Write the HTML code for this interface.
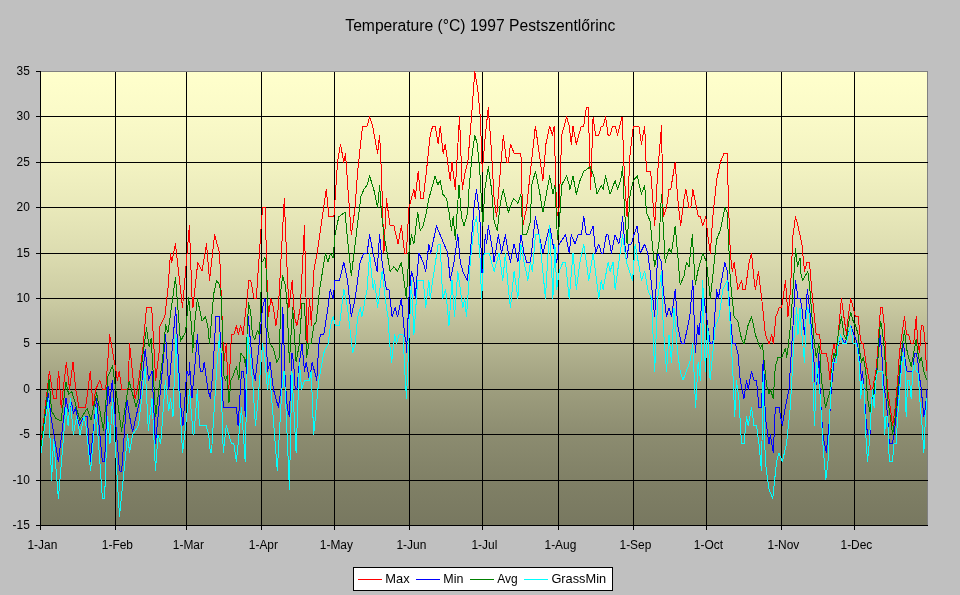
<!DOCTYPE html><html><head><meta charset="utf-8"><title>Temperature 1997</title>
<style>html,body{margin:0;padding:0;background:#c0c0c0}svg{display:block}text{font-family:"Liberation Sans",sans-serif;fill:#000}</style></head><body>
<svg width="960" height="595" viewBox="0 0 960 595">
<defs><linearGradient id="g" x1="0" y1="0" x2="0" y2="1"><stop offset="0.000" stop-color="#ffffcc"/><stop offset="0.099" stop-color="#fafac8"/><stop offset="0.200" stop-color="#f3f3c2"/><stop offset="0.300" stop-color="#e9e9ba"/><stop offset="0.401" stop-color="#dcdcb0"/><stop offset="0.500" stop-color="#cccca3"/><stop offset="0.599" stop-color="#b5b591"/><stop offset="0.700" stop-color="#9e9e7e"/><stop offset="0.800" stop-color="#8c8c70"/><stop offset="0.901" stop-color="#808066"/><stop offset="1.000" stop-color="#787860"/></linearGradient></defs>
<rect width="960" height="595" fill="#c0c0c0"/>
<rect x="40.5" y="71.5" width="887.0" height="454.0" fill="url(#g)" stroke="#808080" stroke-width="1"/>
<path d="M40.5 525.5H927.5M35.5 525.5H40.5M40.5 480.5H927.5M35.5 480.5H40.5M40.5 434.5H927.5M35.5 434.5H40.5M40.5 389.5H927.5M35.5 389.5H40.5M40.5 343.5H927.5M35.5 343.5H40.5M40.5 298.5H927.5M35.5 298.5H40.5M40.5 253.5H927.5M35.5 253.5H40.5M40.5 207.5H927.5M35.5 207.5H40.5M40.5 162.5H927.5M35.5 162.5H40.5M40.5 116.5H927.5M35.5 116.5H40.5M35.5 71.5H40.5M40.5 71.5V530.0M115.5 71.5V530.0M186.5 71.5V530.0M261.5 71.5V530.0M334.5 71.5V530.0M409.5 71.5V530.0M482.5 71.5V530.0M558.5 71.5V530.0M633.5 71.5V530.0M706.5 71.5V530.0M781.5 71.5V530.0M854.5 71.5V530.0" stroke="#000" stroke-width="1" fill="none" shape-rendering="crispEdges"/>
<text transform="translate(29.8 529.3) scale(0.895 1)" font-size="13.33" text-anchor="end">-15</text>
<text transform="translate(29.8 484.3) scale(0.895 1)" font-size="13.33" text-anchor="end">-10</text>
<text transform="translate(29.8 438.3) scale(0.895 1)" font-size="13.33" text-anchor="end">-5</text>
<text transform="translate(29.8 393.3) scale(0.895 1)" font-size="13.33" text-anchor="end">0</text>
<text transform="translate(29.8 347.3) scale(0.895 1)" font-size="13.33" text-anchor="end">5</text>
<text transform="translate(29.8 302.3) scale(0.895 1)" font-size="13.33" text-anchor="end">10</text>
<text transform="translate(29.8 257.3) scale(0.895 1)" font-size="13.33" text-anchor="end">15</text>
<text transform="translate(29.8 211.3) scale(0.895 1)" font-size="13.33" text-anchor="end">20</text>
<text transform="translate(29.8 166.3) scale(0.895 1)" font-size="13.33" text-anchor="end">25</text>
<text transform="translate(29.8 120.3) scale(0.895 1)" font-size="13.33" text-anchor="end">30</text>
<text transform="translate(29.8 75.3) scale(0.895 1)" font-size="13.33" text-anchor="end">35</text>
<text transform="translate(42.4 548.7) scale(0.895 1)" font-size="13.33" text-anchor="middle">1-Jan</text>
<text transform="translate(117.4 548.7) scale(0.895 1)" font-size="13.33" text-anchor="middle">1-Feb</text>
<text transform="translate(188.4 548.7) scale(0.895 1)" font-size="13.33" text-anchor="middle">1-Mar</text>
<text transform="translate(263.4 548.7) scale(0.895 1)" font-size="13.33" text-anchor="middle">1-Apr</text>
<text transform="translate(336.4 548.7) scale(0.895 1)" font-size="13.33" text-anchor="middle">1-May</text>
<text transform="translate(411.4 548.7) scale(0.895 1)" font-size="13.33" text-anchor="middle">1-Jun</text>
<text transform="translate(484.4 548.7) scale(0.895 1)" font-size="13.33" text-anchor="middle">1-Jul</text>
<text transform="translate(560.4 548.7) scale(0.895 1)" font-size="13.33" text-anchor="middle">1-Aug</text>
<text transform="translate(635.4 548.7) scale(0.895 1)" font-size="13.33" text-anchor="middle">1-Sep</text>
<text transform="translate(708.4 548.7) scale(0.895 1)" font-size="13.33" text-anchor="middle">1-Oct</text>
<text transform="translate(783.4 548.7) scale(0.895 1)" font-size="13.33" text-anchor="middle">1-Nov</text>
<text transform="translate(856.4 548.7) scale(0.895 1)" font-size="13.33" text-anchor="middle">1-Dec</text>
<text x="480.3" y="30.7" font-size="16" text-anchor="middle" textLength="270" lengthAdjust="spacingAndGlyphs">Temperature (°C) 1997 Pestszentlőrinc</text>
<path d="M41.0 443.8L49.4 371.1L53.6 398.4L56.2 398.4L58.7 371.1L61.2 407.5L66.3 362.1L69.6 389.3L73.0 362.1L75.8 389.3L78.9 407.5L85.6 407.5L90.3 371.1L93.1 407.5L95.7 389.3L99.9 380.2L102.4 389.3L105.7 389.3L109.7 334.8L116.0 371.1L117.4 380.2L119.3 371.1L121.7 389.3L128.0 389.3L129.6 343.9L135.1 398.4L137.5 389.3L142.9 348.4L146.5 307.6L151.7 307.6L153.3 336.6L155.7 380.2L159.0 353.0L160.0 325.7L164.8 316.7L167.9 289.4L170.5 253.1L171.8 262.2L175.5 244.0L182.5 307.6L189.4 225.9L192.4 307.6L192.9 307.6L197.8 262.2L202.0 271.3L206.5 244.0L209.5 280.3L214.6 234.9L219.6 253.1L223.8 362.1L226.3 343.9L228.4 398.4L231.4 334.8L233.9 334.8L236.4 325.7L238.4 334.8L240.6 325.7L243.1 334.8L249.0 280.3L250.7 280.3L254.1 298.5L256.3 298.5L262.5 207.7L265.3 207.7L266.7 271.3L268.4 316.7L270.9 298.5L273.4 307.6L275.9 325.7L278.4 307.6L284.3 198.6L286.8 262.2L288.9 307.6L292.2 280.3L294.4 316.7L296.9 325.7L300.3 307.6L304.5 225.9L307.0 343.9L309.5 298.5L311.4 325.7L313.7 271.3L317.1 253.1L326.3 189.5L328.9 216.8L333.9 216.8L337.5 162.3L340.5 144.1L343.8 162.3L345.5 153.2L348.0 189.5L351.3 234.9L355.1 207.7L357.6 171.4L362.6 126.0L367.1 126.0L369.6 116.9L372.6 126.0L377.6 153.2L379.6 135.1L381.4 171.4L383.9 253.1L386.4 198.6L390.1 225.9L393.9 225.9L398.1 244.0L401.4 225.9L404.6 253.1L406.4 253.1L408.9 207.7L413.9 189.5L415.2 198.6L418.2 171.4L420.7 198.6L423.2 198.6L426.4 171.4L430.2 135.1L432.7 126.0L435.2 126.0L438.2 144.1L440.2 126.0L443.2 153.2L445.2 144.1L450.2 180.5L452.0 162.3L455.3 189.5L459.5 116.9L462.3 189.5L465.3 171.4L467.8 162.3L471.5 116.9L474.8 71.5L477.8 89.7L480.3 116.9L482.3 171.4L485.3 135.1L488.3 107.8L491.6 153.2L494.1 198.6L496.6 216.8L500.3 171.4L503.3 135.1L506.6 162.3L508.4 162.3L510.4 144.1L514.1 153.2L520.9 153.2L522.9 225.9L526.6 207.7L530.4 171.4L535.4 126.0L539.2 153.2L542.9 180.5L545.9 144.1L549.7 126.0L552.4 135.1L554.2 126.0L556.7 216.8L559.2 207.7L561.7 135.1L566.7 116.9L569.2 126.0L571.3 144.1L573.0 126.0L576.3 144.1L581.3 126.0L583.8 126.0L586.3 107.8L588.3 107.8L590.6 189.5L593.1 116.9L595.6 135.1L598.8 135.1L601.3 126.0L603.1 126.0L605.6 116.9L608.1 135.1L610.1 135.1L612.6 126.0L615.1 126.0L617.6 135.1L622.1 116.9L624.6 180.5L627.1 216.8L630.1 153.2L633.4 126.0L638.9 126.0L641.4 144.1L644.7 126.0L646.4 171.4L650.7 171.4L654.7 225.9L657.7 171.4L661.5 126.0L663.2 216.8L666.5 207.7L669.0 189.5L670.7 189.5L675.2 162.3L677.7 198.6L680.7 225.9L684.0 198.6L686.0 189.5L689.0 207.7L690.8 207.7L692.8 189.5L696.5 207.7L698.3 216.8L700.3 216.8L702.8 225.9L705.8 216.8L707.8 234.9L710.3 253.1L712.8 216.8L716.6 180.5L720.3 162.3L724.1 153.2L727.3 153.2L728.3 198.6L730.3 253.1L732.3 271.3L734.1 262.2L737.9 289.4L741.6 280.3L742.9 289.4L745.4 289.4L749.1 262.2L751.6 253.1L754.1 280.3L755.4 289.4L758.4 271.3L761.7 298.5L765.4 334.8L769.2 343.9L771.7 334.8L773.4 343.9L775.9 316.7L779.2 307.6L781.7 307.6L785.5 280.3L788.0 316.7L790.5 289.4L793.0 234.9L795.5 216.8L798.0 225.9L801.9 244.0L804.5 271.3L807.0 262.2L809.5 262.2L811.7 289.4L816.2 334.8L819.6 334.8L821.3 353.0L826.3 353.0L828.0 362.1L830.0 380.2L832.2 353.0L833.9 343.9L835.9 353.0L838.1 334.8L841.4 298.5L843.9 316.7L846.5 334.8L848.2 316.7L850.7 298.5L853.2 307.6L855.4 316.7L858.2 316.7L859.9 334.8L861.6 343.9L863.3 343.9L865.8 362.1L867.5 371.1L869.2 380.2L870.8 389.3L872.5 389.3L875.9 371.1L877.6 353.0L879.2 325.7L880.6 307.6L882.3 307.6L884.3 325.7L886.0 362.1L887.6 389.3L890.2 407.5L892.7 425.6L895.2 407.5L897.7 380.2L899.4 353.0L901.9 334.8L904.5 316.7L906.5 334.8L908.7 334.8L911.2 343.9L913.7 343.9L916.2 316.7L917.9 343.9L919.6 353.0L921.3 325.7L922.9 325.7L924.6 334.8L926.6 371.1" stroke="#ff0000" stroke-width="1" fill="none" stroke-linejoin="round" shape-rendering="crispEdges"/>
<path d="M41.0 452.9L48.3 393.8L51.0 416.5L58.4 461.9L66.0 398.4L68.5 411.1L71.6 402.9L73.5 413.8L75.4 407.5L79.1 425.6L84.1 416.5L87.3 416.5L90.1 461.9L96.6 398.4L102.4 461.9L104.6 461.9L107.9 384.8L109.8 403.8L112.3 380.2L119.5 471.0L121.7 471.0L126.8 398.4L129.3 414.7L132.6 432.0L140.2 398.4L145.2 349.3L148.6 380.2L152.0 371.1L155.5 443.8L165.6 334.8L168.8 389.3L175.7 307.6L180.5 402.9L183.0 425.6L186.8 371.1L189.0 375.7L189.4 362.1L192.0 398.4L192.7 389.3L195.2 362.1L197.4 334.8L200.3 371.1L202.8 371.1L204.2 362.1L207.8 389.3L210.4 398.4L212.9 371.1L215.9 316.7L219.3 316.7L221.0 353.0L223.3 407.5L236.4 407.5L238.1 425.6L241.5 371.1L243.8 371.1L245.2 416.5L248.2 316.7L250.7 343.9L253.2 371.1L255.2 380.2L258.3 353.0L262.5 307.6L265.0 298.5L267.5 371.1L270.0 362.1L273.4 389.3L278.4 407.5L281.0 389.3L282.8 307.6L285.2 380.2L287.3 407.5L289.4 416.5L291.9 353.0L293.6 362.1L295.2 389.3L296.9 389.3L299.4 362.1L302.0 343.9L304.5 371.1L306.2 362.1L309.5 380.2L312.1 362.1L316.8 380.2L318.8 343.9L320.5 334.8L323.8 334.8L328.0 307.6L330.2 289.4L333.1 298.5L335.0 280.3L339.5 280.3L343.8 262.2L347.5 280.3L351.3 316.7L355.1 298.5L360.1 262.2L363.8 253.1L367.1 253.1L369.6 234.9L373.1 253.1L377.1 271.3L379.6 234.9L382.1 262.2L386.4 289.4L388.9 289.4L392.1 316.7L395.1 307.6L397.6 316.7L401.4 298.5L404.6 334.8L406.4 343.9L406.5 353.0L408.9 298.5L411.4 271.3L413.9 280.3L415.2 298.5L418.9 253.1L423.2 262.2L425.7 271.3L428.9 244.0L430.7 253.1L436.5 225.9L440.2 234.9L444.0 244.0L447.7 253.1L450.2 280.3L454.0 262.2L457.8 234.9L460.3 262.2L462.8 271.3L467.3 280.3L470.3 253.1L474.0 207.7L476.5 189.5L479.8 216.8L482.3 280.3L485.3 234.9L486.6 244.0L488.3 225.9L491.6 244.0L494.1 262.2L498.3 234.9L501.6 253.1L505.4 234.9L508.4 253.1L510.4 262.2L514.1 244.0L517.9 262.2L520.9 234.9L524.1 253.1L526.6 262.2L530.4 262.2L535.4 216.8L539.2 234.9L542.9 253.1L549.7 225.9L552.9 244.0L556.7 262.2L559.2 244.0L565.5 234.9L569.2 253.1L571.3 234.9L575.0 244.0L578.0 234.9L581.3 234.9L583.8 216.8L586.3 234.9L589.6 234.9L593.1 225.9L595.6 253.1L598.8 244.0L601.3 253.1L603.1 253.1L606.3 234.9L608.1 234.9L611.4 253.1L615.1 234.9L618.9 244.0L620.6 234.9L622.6 216.8L626.4 262.2L628.9 244.0L631.4 244.0L633.9 234.9L637.2 225.9L640.2 253.1L644.7 244.0L647.7 253.1L650.2 271.3L654.7 316.7L657.7 253.1L661.5 262.2L663.2 289.4L666.5 316.7L669.0 307.6L671.5 316.7L675.2 289.4L677.7 325.7L681.5 343.9L684.0 343.9L689.8 316.7L692.8 280.3L695.3 353.0L697.8 325.7L699.0 334.8L702.8 289.4L706.5 316.7L710.3 343.9L712.8 343.9L716.6 289.4L718.3 298.5L724.8 262.2L727.3 271.3L730.3 316.7L732.8 343.9L735.4 343.9L737.9 353.0L740.2 380.2L744.0 398.4L746.5 380.2L748.2 389.3L751.5 371.1L754.0 380.2L756.5 380.2L759.0 407.5L761.5 407.5L763.4 353.0L765.3 416.5L769.0 443.8L770.3 434.7L773.3 452.9L775.3 407.5L779.0 407.5L782.3 425.6L785.3 407.5L789.0 389.3L793.0 325.7L795.5 280.3L798.0 298.5L800.0 298.5L801.9 307.6L804.5 334.8L807.3 289.4L809.5 307.6L812.0 334.8L814.0 362.1L815.4 389.3L817.9 371.1L818.7 353.0L820.4 398.4L822.9 434.7L826.3 452.9L828.0 434.7L829.7 416.5L831.3 389.3L833.9 362.1L836.4 353.0L840.6 334.8L844.8 343.9L850.7 325.7L854.0 334.8L857.4 343.9L859.9 362.1L861.6 380.2L862.4 371.1L864.1 389.3L865.8 416.5L867.5 434.7L870.0 434.7L871.7 398.4L873.4 398.4L875.0 389.3L878.4 353.0L880.1 334.8L881.8 353.0L883.4 380.2L884.3 389.3L886.0 398.4L887.6 416.5L889.3 443.8L892.4 443.8L894.0 434.7L896.1 416.5L897.7 398.4L901.9 353.0L903.6 343.9L905.3 362.1L907.0 371.1L908.7 371.1L909.5 371.1L912.0 371.1L912.9 371.1L914.5 353.0L916.2 353.0L917.9 362.1L919.6 380.2L920.4 380.2L922.1 398.4L923.8 416.5L925.5 407.5L927.0 389.3" stroke="#0000ff" stroke-width="1" fill="none" stroke-linejoin="round" shape-rendering="crispEdges"/>
<path d="M41.0 448.3L49.1 379.3L51.6 411.1L56.0 418.4L61.0 421.1L66.0 382.0L68.7 394.7L71.6 391.1L74.7 401.1L79.8 420.2L87.2 408.4L91.0 420.2L96.6 392.9L103.5 430.2L107.9 376.6L112.5 365.7L121.6 431.1L129.1 381.1L136.0 406.6L138.0 400.2L142.0 362.1L146.5 328.0L149.1 346.6L151.2 338.5L155.7 416.5L163.7 348.4L165.6 324.8L167.9 333.0L175.5 277.6L180.4 341.2L185.6 332.1L188.7 297.6L191.9 330.3L192.4 352.1L192.7 353.0L194.4 325.7L197.4 298.5L202.0 321.2L202.0 321.2L205.3 316.7L207.8 325.7L209.5 343.9L213.7 294.0L216.6 280.3L219.6 284.9L221.3 298.5L223.8 375.7L225.5 380.2L227.2 375.7L228.9 402.9L231.0 380.2L233.1 375.7L236.4 366.6L238.9 380.2L240.6 353.0L244.0 357.5L245.7 366.6L248.5 303.0L250.7 312.1L252.4 334.8L254.9 339.4L257.4 330.3L259.6 334.8L262.0 262.2L265.0 257.6L266.7 275.8L267.8 330.3L270.0 343.9L273.4 348.4L276.8 362.1L279.3 357.5L281.0 289.4L282.6 275.8L285.2 284.9L286.8 298.5L289.4 362.1L292.7 307.6L296.1 362.1L299.4 343.9L302.0 303.0L304.5 303.0L306.7 357.5L308.7 343.9L311.2 343.9L313.7 325.7L316.3 321.2L319.6 289.4L325.5 253.1L328.0 262.2L330.5 253.1L333.1 257.6L335.0 234.9L338.8 216.8L345.0 212.2L348.0 244.0L351.3 275.8L355.1 244.0L360.1 203.2L360.1 198.6L363.8 189.5L367.1 185.0L369.6 175.9L373.8 189.5L377.6 207.7L379.6 185.0L381.4 212.2L383.9 234.9L386.4 248.6L390.1 271.3L393.9 266.7L397.6 271.3L401.4 262.2L406.4 298.5L408.9 253.1L411.4 234.9L413.9 244.0L417.7 212.2L420.2 230.4L423.2 225.9L426.4 212.2L428.9 198.6L435.2 175.9L437.7 185.0L440.2 180.5L442.7 194.1L446.5 198.6L449.0 212.2L451.5 230.4L453.2 216.8L455.3 239.5L459.0 185.0L461.5 216.8L464.0 225.9L467.8 212.2L469.0 189.5L472.3 153.2L474.8 135.1L477.3 144.1L479.8 171.4L482.8 225.9L484.8 189.5L488.3 166.8L491.6 189.5L494.1 221.3L497.3 230.4L500.3 203.2L503.3 189.5L508.4 212.2L513.4 198.6L517.9 203.2L520.9 194.1L522.9 234.9L526.6 234.9L530.4 221.3L531.7 185.0L535.4 171.4L539.2 189.5L542.9 212.2L549.7 175.9L552.9 194.1L554.9 185.0L557.5 239.5L559.2 225.9L561.7 185.0L566.7 175.9L569.2 185.0L570.0 189.5L573.0 175.9L576.3 194.1L580.0 180.5L583.8 171.4L590.1 166.8L593.8 175.9L597.1 194.1L601.3 185.0L603.1 189.5L605.6 175.9L610.1 194.1L615.1 180.5L617.6 189.5L620.6 180.5L622.6 166.8L624.6 212.2L627.1 244.0L630.1 194.1L633.4 180.5L637.2 175.9L641.4 194.1L644.7 185.0L646.4 212.2L650.2 221.3L653.2 253.1L654.7 266.7L658.9 244.0L661.5 194.1L665.2 262.2L669.0 248.6L671.5 253.1L675.2 225.9L677.2 248.6L680.2 284.9L684.0 275.8L686.5 262.2L689.0 266.7L692.3 234.9L695.3 284.9L697.8 271.3L702.8 253.1L706.5 262.2L710.3 298.5L713.3 271.3L716.6 239.5L720.3 230.4L724.8 207.7L727.3 212.2L730.3 280.3L734.1 316.7L737.9 321.2L741.6 339.4L744.1 343.9L747.9 325.7L751.6 316.7L755.4 334.8L760.4 348.4L762.4 343.9L766.5 384.8L769.0 393.8L770.3 389.3L773.3 398.4L775.3 366.6L777.9 357.5L781.7 357.5L785.5 348.4L786.7 357.5L788.5 343.9L790.5 325.7L793.0 289.4L795.5 248.6L797.5 266.7L800.0 257.6L801.1 275.8L802.8 280.3L805.3 275.8L807.8 271.3L809.5 284.9L812.0 316.7L814.0 339.4L816.2 357.5L818.7 343.9L820.4 357.5L821.3 380.2L822.9 389.3L825.5 407.5L828.0 398.4L830.5 389.3L832.5 362.1L833.9 353.0L835.9 357.5L838.1 334.8L841.4 316.7L843.9 334.8L846.5 339.4L848.2 325.7L850.7 312.1L853.2 321.2L855.7 325.7L858.2 334.8L859.9 353.0L861.6 362.1L863.3 357.5L865.8 371.1L867.5 398.4L870.0 412.0L871.7 398.4L873.4 393.8L877.6 366.6L879.2 334.8L880.6 321.2L882.3 330.3L884.3 348.4L886.0 375.7L887.6 398.4L890.2 416.5L892.7 434.7L895.2 416.5L896.9 398.4L900.3 362.1L901.9 348.4L904.5 330.3L906.5 348.4L908.7 357.5L911.2 366.6L913.7 353.0L916.2 339.4L917.9 353.0L919.6 362.1L921.3 357.5L923.8 371.1L926.6 380.2" stroke="#008000" stroke-width="1" fill="none" stroke-linejoin="round" shape-rendering="crispEdges"/>
<path d="M41.0 452.9L48.5 398.4L51.6 480.1L53.6 439.2L58.4 498.3L66.0 407.5L68.1 425.6L70.4 398.4L73.3 434.7L76.6 416.5L80.0 434.7L84.1 416.5L86.0 425.6L90.6 471.0L96.0 407.5L102.4 498.3L104.6 498.3L107.5 416.5L110.0 443.8L112.4 398.4L119.5 516.4L127.6 434.7L129.6 452.9L132.6 434.7L138.5 425.6L145.2 367.5L148.3 430.2L152.0 398.4L155.5 471.0L158.0 434.7L160.7 443.8L165.4 380.2L168.8 411.1L170.5 398.4L173.0 416.5L175.8 334.8L180.5 416.5L182.6 452.9L189.7 389.3L189.8 393.8L193.1 434.7L194.0 434.7L197.4 389.3L199.4 425.6L206.2 425.6L208.7 434.7L210.4 452.9L211.5 452.9L217.1 362.1L219.6 334.8L223.3 452.9L226.3 425.6L228.9 434.7L231.4 443.8L233.9 443.8L236.4 461.9L241.5 407.5L245.2 461.9L247.8 334.8L249.9 353.0L253.2 389.3L255.4 425.6L257.4 407.5L262.5 343.9L264.2 353.0L267.5 389.3L269.5 371.1L271.7 398.4L277.3 471.0L281.8 389.3L284.0 371.1L285.2 389.3L289.4 489.2L291.9 371.1L296.1 452.9L299.4 362.1L301.6 389.3L304.5 380.2L309.5 380.2L311.2 371.1L313.7 434.7L315.4 416.5L318.8 380.2L323.8 353.0L328.0 343.9L330.5 325.7L333.1 316.7L335.6 325.7L339.5 325.7L343.8 289.4L347.5 307.6L352.7 353.0L355.2 343.9L357.7 316.7L360.3 307.6L361.9 316.7L367.1 289.4L369.6 253.1L373.1 289.4L374.6 280.3L377.6 307.6L382.1 271.3L386.4 307.6L388.0 316.7L389.7 343.9L391.7 362.1L394.7 334.8L396.4 343.9L398.9 334.8L403.1 334.8L404.8 371.1L406.5 398.4L411.4 280.3L413.9 334.8L417.7 280.3L423.2 280.3L425.7 307.6L428.9 280.3L430.2 298.5L432.7 280.3L438.2 244.0L440.2 244.0L442.7 298.5L445.7 289.4L449.0 325.7L452.0 280.3L454.5 316.7L457.8 271.3L460.3 289.4L462.8 307.6L464.8 298.5L466.5 316.7L470.3 262.2L474.0 225.9L476.5 216.8L479.8 253.1L481.6 298.5L484.1 253.1L489.1 253.1L494.1 271.3L499.1 253.1L502.8 280.3L505.4 253.1L508.4 289.4L510.4 307.6L514.1 271.3L517.9 298.5L520.9 244.0L524.1 262.2L527.9 280.3L530.4 262.2L532.4 271.3L535.4 234.9L539.2 234.9L542.9 271.3L545.4 298.5L549.7 225.9L552.9 298.5L554.9 244.0L556.7 289.4L559.2 271.3L563.0 262.2L565.5 262.2L569.2 298.5L573.0 253.1L576.3 289.4L580.0 262.2L583.8 244.0L588.8 280.3L593.1 253.1L598.8 298.5L601.3 280.3L603.1 289.4L608.1 262.2L610.1 271.3L613.1 262.2L615.1 289.4L618.9 262.2L622.6 234.9L626.4 262.2L632.6 280.3L635.2 244.0L641.4 280.3L644.7 271.3L647.7 289.4L651.4 298.5L654.7 371.1L657.7 298.5L661.5 271.3L663.2 325.7L666.5 371.1L669.0 334.8L671.5 362.1L674.0 307.6L677.7 353.0L680.2 371.1L683.1 380.2L686.3 371.1L689.8 362.1L692.8 343.9L695.6 407.5L698.1 362.1L700.6 380.2L702.8 280.3L705.3 371.1L707.8 325.7L710.1 380.2L712.8 353.0L715.3 325.7L719.1 316.7L722.8 289.4L727.3 280.3L730.3 325.7L732.8 371.1L734.7 416.5L736.4 380.2L738.9 398.4L741.5 443.8L744.0 443.8L746.5 416.5L748.2 425.6L751.5 407.5L754.0 425.6L756.5 425.6L759.0 443.8L761.5 471.0L763.2 371.1L765.3 461.9L769.0 489.2L772.8 498.3L776.5 461.9L779.0 452.9L782.3 461.9L786.5 443.8L790.3 407.5L794.2 334.8L796.7 307.6L798.0 334.8L800.0 307.6L801.9 334.8L804.5 362.1L806.1 316.7L807.8 307.6L809.5 316.7L812.0 353.0L814.5 425.6L816.7 362.1L818.7 380.2L820.4 398.4L822.9 443.8L825.8 480.1L828.0 461.9L829.7 416.5L831.3 380.2L833.0 362.1L836.4 362.1L838.1 343.9L840.6 334.8L843.1 343.9L846.5 343.9L848.2 334.8L850.7 325.7L853.2 343.9L856.6 343.9L859.1 362.1L860.8 398.4L862.1 380.2L864.1 389.3L865.8 434.7L867.5 461.9L869.2 443.8L870.8 416.5L872.5 389.3L874.2 407.5L875.9 380.2L877.6 371.1L882.3 371.1L883.4 398.4L884.6 434.7L886.0 416.5L887.6 416.5L889.3 461.9L892.4 461.9L894.0 443.8L896.1 443.8L897.7 416.5L901.9 362.1L903.6 353.0L905.3 371.1L906.1 416.5L907.8 380.2L909.5 380.2L911.2 398.4L912.9 371.1L914.5 362.1L916.2 371.1L917.9 371.1L920.4 407.5L922.1 425.6L923.8 452.9L925.5 416.5L927.0 398.4" stroke="#00ffff" stroke-width="1" fill="none" stroke-linejoin="round" shape-rendering="crispEdges"/>
<rect x="353.5" y="567.5" width="259" height="23" fill="#fff" stroke="#000" stroke-width="1" shape-rendering="crispEdges"/>
<path d="M358 579.5H381.5" stroke="#ff0000" stroke-width="1" shape-rendering="crispEdges"/>
<text x="385.3" y="582.6" font-size="13.33" textLength="24.3" lengthAdjust="spacingAndGlyphs">Max</text>
<path d="M416 579.5H439.5" stroke="#0000ff" stroke-width="1" shape-rendering="crispEdges"/>
<text x="443.3" y="582.6" font-size="13.33" textLength="20.1" lengthAdjust="spacingAndGlyphs">Min</text>
<path d="M470 579.5H493.5" stroke="#008000" stroke-width="1" shape-rendering="crispEdges"/>
<text x="497.2" y="582.6" font-size="13.33" textLength="20.4" lengthAdjust="spacingAndGlyphs">Avg</text>
<path d="M524 579.5H547.5" stroke="#00ffff" stroke-width="1" shape-rendering="crispEdges"/>
<text x="551.4" y="582.6" font-size="13.33" textLength="54.7" lengthAdjust="spacingAndGlyphs">GrassMin</text>
</svg></body></html>
